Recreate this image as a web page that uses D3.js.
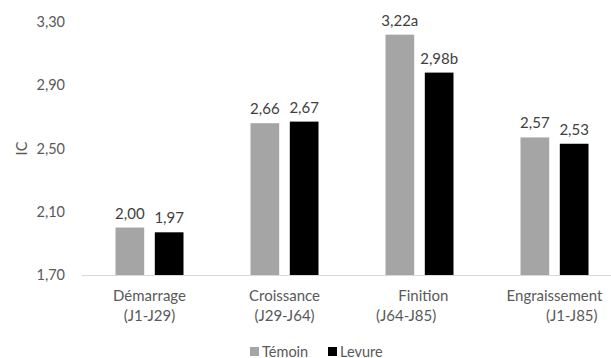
<!DOCTYPE html>
<html>
<head>
<meta charset="utf-8">
<title>IC</title>
<script src="https://cdn.jsdelivr.net/npm/d3@7"></script>
<style>
  body { margin: 0; background: #fff; }
  svg text { font-family: Lato, "Open Sans", sans-serif; fill: #595959; }
  .val { fill: #404040; }
</style>
</head>
<body>
<svg width="611" height="358"></svg>
<script>
// categories (two lines each, spacing kept from the original wrapping)
var categories = ["Démarrage", "Croissance", "Finition", "Engraissement"];
var catLine1 = ["Démarrage", "Croissance", "\u00a0\u00a0Finition", "Engraissement"];
var catLine2 = ["(J1-J29)", "(J29-J64)", "(J64-J85)\u00a0\u00a0\u00a0\u00a0\u00a0\u00a0\u00a0", "\u00a0\u00a0\u00a0\u00a0\u00a0\u00a0\u00a0\u00a0\u00a0(J1-J85)"];
var series = ["Témoin", "Levure"];
var temoin = [2.00, 2.66, 3.22, 2.57];
var levure = [1.97, 2.67, 2.98, 2.53];
var temoinLabels = ["2,00", "2,66", "3,22a", "2,57"];
var levureLabels = ["1,97", "2,67", "2,98b", "2,53"];
var yTicks = [1.70, 2.10, 2.50, 2.90, 3.30];

var svg = d3.select("svg");
var colors = ["#a5a5a5", "#000000"];

var x0 = d3.scaleBand().domain(categories).range([82, 622]).paddingInner(0).paddingOuter(0);
var x1 = d3.scaleBand().domain(series).range([x0.bandwidth() / 2 - 34, x0.bandwidth() / 2 + 34]).paddingInner(0.27).paddingOuter(0);
var y = d3.scaleLinear().domain([1.70, 3.30]).range([275, 22]);

var fmt = function(v) { return v.toFixed(2).replace(".", ","); };

// y axis labels
svg.append("g").selectAll("text").data(yTicks).enter().append("text")
  .attr("x", 65).attr("y", function(d) { return y(d); })
  .attr("dy", "0.35em").attr("text-anchor", "end")
  .style("font-size", "14.5px")
  .text(fmt);

svg.append("text")
  .attr("transform", "translate(22," + y(2.50) + ") rotate(-90)")
  .attr("text-anchor", "middle").attr("dy", "0.35em")
  .style("font-size", "14.5px")
  .text("IC");

var rows = categories.map(function(c, i) {
  return { cat: c, vals: [
    { s: series[0], v: temoin[i], lab: temoinLabels[i] },
    { s: series[1], v: levure[i], lab: levureLabels[i] } ] };
});

var g = svg.selectAll(".grp").data(rows).enter().append("g")
  .attr("class", "grp")
  .attr("transform", function(d) { return "translate(" + x0(d.cat) + ",0)"; });

g.selectAll("rect").data(function(d) { return d.vals; }).enter().append("rect")
  .attr("x", function(d) { return x1(d.s); })
  .attr("width", x1.bandwidth())
  .attr("y", function(d) { return y(d.v); })
  .attr("height", function(d) { return y(1.70) - y(d.v); })
  .attr("fill", function(d, i) { return colors[i]; });

g.selectAll("text.val").data(function(d) { return d.vals; }).enter().append("text")
  .attr("class", "val")
  .attr("x", function(d) { return x1(d.s) + x1.bandwidth() / 2; })
  .attr("y", function(d) { return y(d.v) - 9; })
  .attr("text-anchor", "middle")
  .style("font-size", "15px")
  .text(function(d) { return d.lab; });

// baseline
svg.append("line")
  .attr("x1", x0.range()[0]).attr("x2", x0.range()[1])
  .attr("y1", y(1.70) + 0.5).attr("y2", y(1.70) + 0.5)
  .attr("stroke", "#d9d9d9").attr("stroke-width", 1);

// category labels
var cl = svg.append("g").selectAll("text").data(categories).enter().append("text")
  .attr("text-anchor", "middle")
  .attr("xml:space", "preserve")
  .style("font-size", "15px");
cl.append("tspan")
  .attr("x", function(d) { return x0(d) + x0.bandwidth() / 2; })
  .attr("y", 301)
  .text(function(d, i) { return catLine1[i]; });
cl.append("tspan")
  .attr("x", function(d) { return x0(d) + x0.bandwidth() / 2; })
  .attr("y", 321)
  .text(function(d, i) { return catLine2[i]; });

// legend
var leg = svg.append("g").selectAll("g").data(series).enter().append("g")
  .attr("transform", function(d, i) { return "translate(" + (250 + i * 78) + ",347)"; });
leg.append("rect").attr("width", 9).attr("height", 9)
  .attr("fill", function(d, i) { return colors[i]; });
leg.append("text").attr("x", 12).attr("y", 9.5)
  .style("font-size", "14.5px")
  .text(function(d) { return d; });
</script>
</body>
</html>
